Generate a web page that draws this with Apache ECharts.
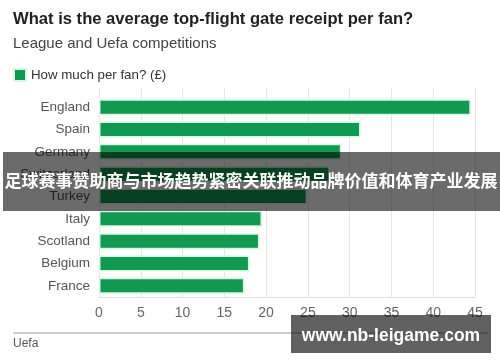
<!DOCTYPE html>
<html>
<head>
<meta charset="utf-8">
<script src="https://cdn.jsdelivr.net/npm/echarts@6/dist/echarts.min.js"></script>
<style>html,body{margin:0;padding:0;background:#fff}#c{width:500px;height:362px}</style>
</head>
<body>
<div id="c"></div>
<script>
var categories = ['England','Spain','Germany','Switzerland','Turkey','Italy','Scotland','Belgium','France'];
var perFan = [44.5, 31.3, 29.0, 27.6, 24.9, 19.5, 19.2, 18.0, 17.4];
var xTicks = [0, 5, 10, 15, 20, 25, 30, 35, 40, 45];
var titleText = 'What is the average top-flight gate receipt per fan?';
var subtitleText = 'League and Uefa competitions';
var seriesName = 'How much per fan? (£)';
var sourceText = 'Uefa';
var bannerText = '足球赛事赞助商与市场趋势紧密关联推动品牌价值和体育产业发展';
var watermarkText = 'www.nb-leigame.com';

var font = '"Liberation Sans", Arial, sans-serif';
var chart = echarts.init(document.getElementById('c'), null, {renderer: 'canvas'});
chart.setOption({
  animation: false,
  backgroundColor: '#fff',
  textStyle: {fontFamily: font},
  title: [
    {text: titleText, left: 13, top: 11, padding: 0, textStyle: {fontSize: 16.6, fontWeight: 'bold', color: '#222', fontFamily: font}},
    {text: subtitleText, left: 13, top: 36, padding: 0, textStyle: {fontSize: 15, fontWeight: 'normal', color: '#444', fontFamily: font}}
  ],
  legend: {
    left: 13, top: 68, padding: 0, icon: 'rect', itemWidth: 12, itemHeight: 12, itemGap: 6,
    textStyle: {fontSize: 13.3, color: '#333', fontFamily: font},
    data: [seriesName]
  },
  grid: [
    {left: 99, right: 25, top: 96, bottom: 65, containLabel: false},
    {left: 99, right: 25, top: 88, bottom: 65, containLabel: false}
  ],
  xAxis: [
    {type: 'value', gridIndex: 0, min: xTicks[0], max: xTicks[xTicks.length-1], interval: 5,
     axisLine: {show: true, lineStyle: {color: '#e2e2e2'}}, axisTick: {show: false},
     axisLabel: {fontSize: 14, color: '#666', margin: 9, fontFamily: font},
     splitLine: {show: false}},
    {type: 'value', gridIndex: 1, min: xTicks[0], max: xTicks[xTicks.length-1], interval: 5,
     axisLine: {show: false}, axisTick: {show: false}, axisLabel: {show: false},
     splitLine: {show: true, lineStyle: {color: '#e6e6e6', width: 1}}}
  ],
  yAxis: [
    {type: 'category', gridIndex: 0, data: categories, inverse: true,
     axisLine: {show: false}, axisTick: {show: false},
     axisLabel: {fontSize: 13.5, color: '#555', margin: 9, fontFamily: font}},
    {type: 'category', gridIndex: 1, data: categories, show: false}
  ],
  series: [{
    name: seriesName, type: 'bar', xAxisIndex: 0, yAxisIndex: 0, data: perFan,
    barWidth: 16, z: 3,
    itemStyle: {color: '#11994f', borderColor: '#d6f7e4', borderWidth: 1.5}
  }],
  graphic: [
    {type: 'line', shape: {x1: 13, y1: 333, x2: 488, y2: 333}, style: {stroke: '#9a9a9a', lineWidth: 1}},
    {type: 'text', left: 13, top: 338, style: {text: sourceText, fontSize: 12, fill: '#555', font: '12px ' + font}},
    {type: 'rect', shape: {x: 3, y: 152, width: 497, height: 59}, style: {fill: 'rgba(0,0,0,0.58)'}, z: 100},
    {type: 'text', z: 101, style: {x: 251, y: 181, text: bannerText, align: 'center', verticalAlign: 'middle',
      fill: '#fff', font: 'bold 17px "Noto Sans CJK SC", sans-serif'}},
    {type: 'rect', shape: {x: 291, y: 315, width: 200, height: 38}, style: {fill: 'rgba(0,0,0,0.62)'}, z: 100},
    {type: 'text', z: 101, style: {x: 391, y: 336, text: watermarkText, align: 'center', verticalAlign: 'middle',
      fill: '#fff', font: 'bold 17.5px "Liberation Sans", Arial, sans-serif'}}
  ]
});
</script>
</body>
</html>
